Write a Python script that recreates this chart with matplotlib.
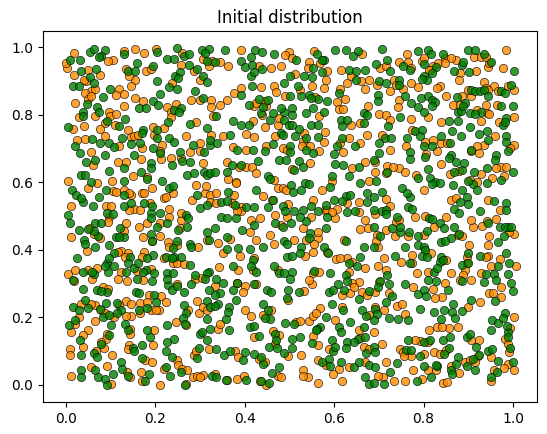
import matplotlib
matplotlib.use("Agg")
import matplotlib.pyplot as plt

title = "Initial distribution"

orange_pts = [
(0.019,0.982),(0.105,0.962),(0.094,0.960),(0.130,0.988),(0.156,0.996),(0.176,0.982),(0.202,0.996),(0.260,0.982),(0.307,0.966),(0.004,0.939),(0.002,0.954),(0.135,0.937),(0.179,0.929),(0.190,0.937),(0.257,0.947),(0.320,0.946),(0.327,0.959),(0.019,0.919),(0.050,0.934),(0.046,0.901),(0.077,0.919),(0.154,0.902),(0.142,0.914),(0.286,0.929),(0.301,0.904),(0.041,0.902),(0.057,0.870),(0.065,0.877),(0.120,0.877),(0.113,0.860),(0.130,0.863),(0.147,0.885),(0.238,0.895),(0.280,0.845),(0.301,0.845),(0.325,0.845),(0.044,0.865),(0.051,0.847),(0.057,0.855),(0.020,0.835),(0.156,0.850),(0.174,0.840),(0.130,0.827),(0.226,0.822),(0.246,0.833),(0.325,0.823),(0.065,0.796),(0.029,0.793),(0.096,0.808),(0.100,0.798),(0.113,0.804),(0.236,0.808),(0.235,0.793),(0.329,0.796),(0.017,0.758),(0.041,0.768),(0.089,0.776),(0.111,0.771),(0.076,0.758),(0.140,0.754),(0.221,0.760),(0.291,0.778),(0.195,0.763),(0.026,0.726),(0.043,0.728),(0.089,0.736),(0.119,0.709),(0.146,0.734),(0.153,0.736),(0.162,0.741),(0.198,0.740),(0.216,0.712),(0.268,0.738),(0.301,0.718),(0.326,0.740),(0.056,0.689),(0.170,0.702),(0.212,0.692),(0.278,0.689),(0.301,0.692),
(0.391,0.993),(0.499,0.986),(0.491,0.976),(0.555,0.988),(0.568,0.954),(0.663,0.979),(0.345,0.956),(0.363,0.946),(0.433,0.944),(0.459,0.939),(0.482,0.946),(0.544,0.956),(0.585,0.931),(0.583,0.902),(0.513,0.922),(0.615,0.934),(0.661,0.899),(0.677,0.902),(0.629,0.895),(0.670,0.878),(0.436,0.883),(0.393,0.880),(0.376,0.865),(0.465,0.887),(0.470,0.867),(0.491,0.855),(0.550,0.885),(0.578,0.880),(0.558,0.852),(0.613,0.877),(0.624,0.847),(0.607,0.837),(0.360,0.845),(0.345,0.830),(0.422,0.825),(0.439,0.801),(0.448,0.825),(0.567,0.796),(0.611,0.817),(0.676,0.825),(0.659,0.776),(0.637,0.771),(0.419,0.781),(0.446,0.764),(0.474,0.771),(0.352,0.736),(0.404,0.743),(0.422,0.734),(0.469,0.736),(0.530,0.724),(0.578,0.721),(0.634,0.731),(0.657,0.718),(0.674,0.741),(0.374,0.705),(0.404,0.695),(0.447,0.709),(0.485,0.702),(0.567,0.692),(0.620,0.689),
(0.507,0.969),(0.541,0.939),(0.524,0.873),(0.445,0.840),(0.426,0.835),(0.478,0.791),(0.621,0.817),(0.533,0.746),(0.580,0.748),(0.613,0.717),(0.494,0.697),(0.528,0.707),(0.546,0.707),(0.637,0.914),
(0.763,0.979),(0.766,0.956),(0.796,0.959),(0.849,0.969),(0.873,0.962),(0.913,0.972),(0.929,0.972),(0.984,0.993),(0.703,0.939),(0.822,0.946),(0.833,0.954),(0.817,0.934),(0.881,0.924),(0.879,0.902),(0.918,0.929),(0.945,0.942),(0.947,0.954),(0.977,0.939),(0.696,0.890),(0.733,0.904),(0.755,0.877),(0.772,0.893),(0.787,0.883),(0.837,0.885),(0.936,0.897),(0.958,0.887),(0.966,0.870),(0.988,0.887),(1.003,0.875),(0.905,0.855),(0.726,0.870),(0.744,0.845),(0.743,0.822),(0.851,0.855),(0.866,0.830),(0.940,0.830),(0.941,0.806),(0.964,0.830),(0.700,0.804),(0.716,0.801),(0.726,0.786),(0.772,0.788),(0.811,0.793),(0.840,0.778),(0.929,0.781),(1.003,0.793),(0.840,0.718),(0.761,0.707),(0.726,0.697),(0.805,0.685),(0.960,0.738),(0.936,0.712),(0.920,0.707),(0.923,0.687),(1.003,0.712),
(0.800,0.969),(0.862,0.969),(0.940,0.972),(0.715,0.946),(0.744,0.956),(0.772,0.939),(0.812,0.934),(0.849,0.954),(0.738,0.890),(0.831,0.880),(0.940,0.880),(0.899,0.873),(0.945,0.875),(0.885,0.857),(0.881,0.830),(0.920,0.815),(0.947,0.804),(0.969,0.778),(0.774,0.756),(0.706,0.741),(0.803,0.721),(0.820,0.726),(0.853,0.718),(0.907,0.692),(0.994,0.702),(0.829,0.692),
(0.118,0.659),(0.135,0.659),(0.168,0.669),(0.214,0.669),(0.307,0.657),(0.006,0.603),(0.050,0.583),(0.071,0.598),(0.103,0.603),(0.150,0.618),(0.292,0.593),(0.013,0.529),(0.105,0.575),(0.147,0.563),(0.170,0.568),(0.220,0.553),(0.283,0.548),(0.312,0.570),(0.091,0.529),(0.102,0.529),(0.153,0.521),(0.167,0.519),(0.231,0.521),(0.231,0.499),(0.257,0.489),(0.098,0.499),(0.135,0.479),(0.163,0.467),(0.316,0.430),(0.013,0.437),(0.048,0.398),(0.076,0.435),(0.054,0.464),(0.124,0.398),(0.172,0.439),(0.193,0.425),(0.211,0.440),(0.248,0.415),(0.295,0.408),(0.176,0.395),(0.241,0.362),(0.006,0.329),(0.071,0.346),
(0.061,0.652),(0.235,0.672),(0.257,0.672),(0.183,0.616),(0.241,0.570),(0.314,0.590),(0.113,0.573),(0.131,0.578),(0.142,0.568),(0.176,0.568),(0.194,0.583),(0.224,0.558),(0.322,0.563),(0.142,0.519),(0.189,0.538),(0.258,0.509),(0.322,0.543),(0.094,0.484),(0.131,0.457),(0.183,0.481),(0.212,0.479),(0.255,0.464),(0.063,0.448),(0.116,0.395),(0.229,0.422),(0.231,0.410),(0.140,0.390),(0.133,0.380),(0.170,0.380),(0.220,0.375),(0.249,0.360),(0.264,0.358),(0.020,0.341),(0.050,0.341),(0.124,0.336),(0.190,0.343),(0.159,0.339),
(0.360,0.659),(0.404,0.647),(0.417,0.645),(0.425,0.628),(0.363,0.610),(0.380,0.600),(0.547,0.657),(0.507,0.639),(0.640,0.642),(0.670,0.659),(0.465,0.606),(0.474,0.583),(0.485,0.583),(0.574,0.578),(0.677,0.603),(0.336,0.568),(0.441,0.560),(0.462,0.548),(0.552,0.548),(0.607,0.521),(0.371,0.538),(0.393,0.527),(0.415,0.489),(0.435,0.494),(0.530,0.464),(0.603,0.494),(0.670,0.489),(0.657,0.461),(0.676,0.464),(0.341,0.420),(0.425,0.430),(0.456,0.445),(0.465,0.418),(0.511,0.430),(0.565,0.435),(0.552,0.395),(0.389,0.382),(0.422,0.375),(0.343,0.348),(0.419,0.341),(0.605,0.372),(0.629,0.377),
(0.388,0.647),(0.595,0.603),(0.493,0.578),(0.376,0.563),(0.380,0.598),(0.498,0.537),(0.580,0.517),(0.629,0.539),(0.655,0.543),(0.336,0.539),(0.393,0.514),(0.382,0.514),(0.413,0.452),(0.467,0.504),(0.482,0.474),(0.494,0.499),(0.548,0.499),(0.585,0.517),(0.595,0.511),(0.655,0.511),(0.563,0.454),(0.368,0.432),(0.555,0.418),(0.537,0.430),(0.585,0.395),(0.622,0.430),(0.352,0.390),(0.474,0.341),(0.535,0.382),(0.385,0.341),(0.552,0.331),(0.567,0.336),(0.613,0.375),(0.640,0.365),(0.670,0.346),(0.633,0.336),
(0.718,0.649),(0.744,0.642),(0.759,0.630),(0.839,0.655),(0.929,0.626),(0.972,0.645),(0.783,0.623),(0.801,0.578),(0.953,0.613),(0.716,0.550),(0.861,0.548),(0.873,0.553),(0.970,0.519),(0.781,0.497),(0.726,0.531),(0.691,0.507),(0.851,0.499),(0.910,0.469),(0.930,0.471),(0.962,0.491),(1.003,0.447),(0.947,0.440),(0.944,0.415),(0.715,0.459),(0.737,0.440),(0.901,0.415),(0.698,0.410),(0.774,0.385),(0.711,0.375),(0.817,0.390),(0.944,0.383),(0.951,0.351),(0.698,0.353),(0.715,0.341),(0.785,0.331),(0.809,0.336),
(0.691,0.659),(0.731,0.647),(0.859,0.626),(0.879,0.635),(0.962,0.642),(0.984,0.645),(0.691,0.630),(0.715,0.628),(0.903,0.608),(0.920,0.600),(0.979,0.618),(0.944,0.548),(0.738,0.484),(0.746,0.489),(0.803,0.501),(0.800,0.444),(0.824,0.467),(0.877,0.444),(0.907,0.489),(0.942,0.487),(0.992,0.452),(0.696,0.444),(0.766,0.442),(0.885,0.440),(0.896,0.378),(0.694,0.425),(0.775,0.361),(0.851,0.370),(0.898,0.361),(0.893,0.341),(0.940,0.380),(0.970,0.372),(0.750,0.365),(0.862,0.331),(0.888,0.326),(0.929,0.331),(1.006,0.351),
(0.019,0.308),(0.083,0.290),(0.137,0.308),(0.294,0.249),(0.187,0.266),(0.214,0.263),(0.224,0.246),(0.190,0.221),(0.065,0.236),(0.135,0.249),(0.167,0.243),(0.146,0.203),(0.298,0.213),(0.011,0.157),(0.050,0.164),(0.065,0.189),(0.085,0.110),(0.198,0.162),(0.246,0.186),(0.270,0.177),(0.196,0.117),(0.009,0.107),(0.009,0.090),(0.103,0.088),(0.248,0.073),(0.286,0.090),(0.320,0.107),(0.177,0.075),(0.194,0.068),(0.221,0.048),(0.285,0.023),(0.307,0.030),(0.013,0.026),(0.056,0.053),(0.102,0.003),(0.093,0.055),(0.168,0.038),(0.170,0.011),(0.210,-0.001),
(0.059,0.315),(0.094,0.285),(0.116,0.315),(0.172,0.310),(0.249,0.298),(0.290,0.315),(0.305,0.318),(0.307,0.231),(0.181,0.246),(0.209,0.221),(0.035,0.241),(0.056,0.241),(0.079,0.221),(0.120,0.236),(0.146,0.241),(0.135,0.203),(0.167,0.213),(0.201,0.221),(0.273,0.221),(0.316,0.221),(0.020,0.182),(0.029,0.201),(0.039,0.147),(0.088,0.213),(0.109,0.201),(0.144,0.167),(0.144,0.152),(0.093,0.152),(0.091,0.137),(0.079,0.127),(0.039,0.112),(0.068,0.102),(0.142,0.117),(0.140,0.107),(0.251,0.058),(0.292,0.100),(0.137,0.038),(0.144,0.023),(0.261,0.048),(0.272,0.043),(0.294,0.028),(0.268,0.002),(0.300,0.025),
(0.400,0.292),(0.397,0.275),(0.550,0.298),(0.655,0.305),(0.635,0.271),(0.663,0.276),(0.341,0.167),(0.459,0.221),(0.400,0.223),(0.415,0.203),(0.515,0.186),(0.544,0.189),(0.553,0.203),(0.568,0.229),(0.617,0.231),(0.677,0.206),(0.422,0.142),(0.463,0.160),(0.563,0.117),(0.666,0.112),(0.378,0.102),(0.526,0.088),(0.565,0.075),(0.581,0.058),(0.618,0.013),(0.383,0.018),(0.447,0.001),(0.474,0.028),(0.530,0.043),(0.541,0.023),(0.565,0.005),
(0.334,0.292),(0.382,0.302),(0.426,0.298),(0.498,0.251),(0.533,0.278),(0.544,0.310),(0.640,0.302),(0.618,0.266),(0.644,0.290),(0.674,0.266),(0.346,0.182),(0.442,0.206),(0.524,0.189),(0.559,0.213),(0.602,0.191),(0.655,0.162),(0.478,0.147),(0.467,0.122),(0.552,0.144),(0.589,0.107),(0.657,0.140),(0.677,0.107),(0.385,0.083),(0.433,0.078),(0.445,0.068),(0.498,0.085),(0.612,0.048),(0.598,0.033),(0.633,0.053),(0.670,0.068),(0.334,0.033),(0.360,0.015),(0.398,0.028),(0.435,0.013),(0.482,0.023),(0.530,0.028),
(0.691,0.276),(0.777,0.290),(0.822,0.285),(0.849,0.302),(0.842,0.261),(0.927,0.246),(0.947,0.271),(0.973,0.290),(0.689,0.157),(0.711,0.221),(0.740,0.233),(0.752,0.241),(0.759,0.209),(0.812,0.164),(0.829,0.172),(0.856,0.170),(0.877,0.172),(1.003,0.201),(0.981,0.137),(0.923,0.134),(0.988,0.061),(0.716,0.068),(0.748,0.107),(0.772,0.085),(0.824,0.097),(0.811,0.043),(0.879,0.035),(0.709,0.025),(0.735,0.011),(0.759,0.011),(0.777,0.045),(0.797,0.018),(0.844,0.005),(0.979,0.051),
(0.700,0.305),(0.722,0.271),(0.825,0.259),(0.881,0.312),(0.907,0.312),(0.955,0.273),(0.973,0.261),(0.692,0.231),(0.899,0.231),(0.842,0.172),(0.994,0.170),(0.792,0.130),(0.780,0.132),(0.811,0.127),(0.851,0.104),(0.905,0.132),(0.921,0.085),(0.951,0.083),(0.988,0.122),(0.992,0.097),(0.706,0.122),(0.753,0.097),(0.757,0.085),(0.800,0.093),(0.837,0.093),(0.827,0.045),(0.862,0.055),(0.893,0.068),(0.914,0.068),(0.903,0.073),(0.698,0.028),(0.853,0.008),(0.957,0.043),(0.950,0.013),(1.003,0.045),
]

green_pts = [
(0.054,0.987),(0.063,0.996),(0.089,0.993),(0.079,0.974),(0.074,0.972),(0.130,0.979),(0.205,0.986),(0.249,0.997),(0.227,0.966),(0.242,0.966),(0.264,0.974),(0.276,0.979),(0.305,0.993),(0.320,0.995),(0.312,0.982),(0.010,0.962),(0.032,0.964),(0.159,0.954),(0.139,0.929),(0.156,0.931),(0.196,0.946),(0.276,0.949),(0.294,0.937),(0.316,0.959),(0.035,0.929),(0.068,0.937),(0.054,0.911),(0.204,0.900),(0.244,0.916),(0.255,0.926),(0.252,0.908),(0.307,0.916),(0.317,0.898),(0.017,0.887),(0.030,0.885),(0.064,0.895),(0.099,0.877),(0.232,0.883),(0.249,0.878),(0.210,0.862),(0.290,0.870),(0.306,0.850),(0.083,0.853),(0.048,0.832),(0.195,0.840),(0.207,0.830),(0.242,0.815),(0.257,0.820),(0.071,0.822),(0.074,0.809),(0.039,0.810),(0.040,0.796),(0.163,0.820),(0.180,0.819),(0.254,0.808),(0.006,0.764),(0.093,0.781),(0.132,0.788),(0.119,0.766),(0.174,0.754),(0.229,0.780),(0.279,0.774),(0.316,0.760),(0.204,0.754),(0.059,0.729),(0.076,0.718),(0.096,0.718),(0.109,0.705),(0.127,0.731),(0.167,0.718),(0.147,0.714),(0.170,0.746),(0.204,0.731),(0.231,0.731),(0.242,0.721),(0.285,0.712),(0.322,0.712),(0.323,0.726),(0.022,0.707),(0.033,0.687),(0.087,0.682),(0.152,0.680),(0.195,0.702),(0.211,0.687),(0.255,0.689),(0.310,0.689),
(0.356,0.993),(0.424,0.991),(0.439,0.986),(0.465,0.981),(0.516,0.962),(0.561,0.979),(0.578,0.962),(0.603,0.993),(0.626,0.993),(0.654,0.988),(0.643,0.974),(0.334,0.956),(0.391,0.959),(0.402,0.942),(0.414,0.972),(0.417,0.949),(0.439,0.936),(0.414,0.916),(0.422,0.926),(0.533,0.914),(0.550,0.912),(0.502,0.914),(0.633,0.934),(0.648,0.929),(0.668,0.934),(0.649,0.904),(0.417,0.887),(0.393,0.860),(0.487,0.895),(0.520,0.885),(0.527,0.857),(0.502,0.857),(0.544,0.860),(0.565,0.847),(0.585,0.840),(0.611,0.865),(0.410,0.830),(0.433,0.847),(0.436,0.806),(0.457,0.784),(0.463,0.806),(0.506,0.820),(0.507,0.801),(0.489,0.810),(0.487,0.784),(0.537,0.806),(0.553,0.820),(0.578,0.810),(0.615,0.786),(0.629,0.786),(0.666,0.806),(0.674,0.799),(0.618,0.766),(0.336,0.796),(0.373,0.781),(0.391,0.771),(0.410,0.771),(0.500,0.771),(0.521,0.758),(0.548,0.771),(0.565,0.771),(0.367,0.741),(0.482,0.746),(0.513,0.736),(0.538,0.731),(0.563,0.734),(0.617,0.731),(0.607,0.709),(0.646,0.707),(0.339,0.718),(0.382,0.697),(0.419,0.697),(0.463,0.715),(0.501,0.707),(0.502,0.689),(0.552,0.687),(0.600,0.685),
(0.552,0.939),(0.573,0.926),(0.548,0.850),(0.452,0.845),(0.441,0.822),(0.482,0.820),(0.666,0.776),(0.507,0.771),(0.485,0.741),(0.537,0.697),(0.445,0.692),(0.572,0.962),
(0.706,0.995),(0.788,0.990),(0.811,0.991),(0.817,0.979),(0.802,0.952),(0.844,0.979),(0.886,0.949),(0.899,0.991),(0.914,0.991),(0.936,0.979),(0.694,0.952),(0.718,0.964),(0.726,0.931),(0.755,0.946),(0.770,0.934),(0.828,0.942),(0.868,0.929),(0.901,0.926),(1.001,0.929),(0.701,0.899),(0.715,0.895),(0.746,0.904),(0.744,0.890),(0.802,0.914),(0.807,0.904),(0.818,0.924),(0.907,0.875),(0.914,0.870),(0.927,0.870),(0.936,0.875),(0.944,0.855),(0.973,0.870),(0.995,0.890),(0.981,0.865),(0.698,0.860),(0.698,0.840),(0.759,0.855),(0.772,0.835),(0.794,0.850),(0.811,0.855),(0.818,0.845),(0.825,0.838),(0.788,0.823),(0.800,0.808),(0.818,0.825),(0.874,0.852),(0.893,0.835),(0.876,0.810),(0.903,0.806),(0.929,0.808),(0.973,0.825),(1.000,0.825),(0.720,0.768),(0.748,0.794),(0.856,0.781),(0.876,0.781),(0.903,0.764),(0.984,0.791),(0.977,0.771),(0.781,0.751),(0.796,0.756),(0.792,0.738),(0.840,0.738),(0.864,0.751),(0.883,0.736),(0.713,0.731),(0.701,0.718),(0.728,0.731),(0.763,0.733),(0.800,0.709),(0.818,0.707),(0.860,0.717),(0.770,0.689),(0.861,0.680),(0.924,0.743),(0.942,0.751),(0.945,0.726),(0.905,0.695),(0.984,0.736),(0.984,0.721),(0.988,0.692),
(0.888,0.956),(0.950,0.956),(0.796,0.906),(0.883,0.813),(0.914,0.804),(0.981,0.779),(0.700,0.687),(0.962,0.682),(0.888,0.825),
(0.046,0.659),(0.065,0.665),(0.130,0.642),(0.190,0.657),(0.238,0.652),(0.261,0.662),(0.278,0.659),(0.309,0.632),(0.096,0.635),(0.014,0.578),(0.035,0.623),(0.057,0.600),(0.130,0.603),(0.168,0.632),(0.183,0.610),(0.216,0.603),(0.231,0.583),(0.241,0.588),(0.272,0.623),(0.316,0.623),(0.024,0.563),(0.039,0.543),(0.006,0.504),(0.009,0.479),(0.091,0.578),(0.074,0.558),(0.061,0.529),(0.093,0.509),(0.131,0.531),(0.147,0.538),(0.176,0.538),(0.190,0.509),(0.212,0.509),(0.268,0.504),(0.301,0.524),(0.317,0.534),(0.031,0.459),(0.065,0.479),(0.205,0.469),(0.251,0.459),(0.272,0.469),(0.316,0.454),(0.041,0.430),(0.043,0.418),(0.065,0.410),(0.098,0.415),(0.113,0.439),(0.131,0.439),(0.190,0.447),(0.278,0.418),(0.026,0.375),(0.145,0.378),(0.139,0.362),(0.092,0.360),(0.109,0.351),(0.196,0.385),(0.224,0.378),(0.257,0.380),(0.039,0.336),(0.063,0.329),(0.094,0.336),(0.135,0.336),(0.153,0.346),(0.179,0.341),(0.198,0.331),(0.226,0.331),(0.241,0.331),(0.290,0.326),(0.320,0.336),
(0.190,0.642),(0.044,0.623),(0.286,0.628),(0.323,0.628),(0.035,0.553),(0.130,0.563),(0.294,0.563),(0.105,0.506),(0.194,0.531),(0.273,0.494),(0.079,0.479),(0.122,0.464),(0.190,0.494),(0.227,0.479),(0.072,0.440),(0.063,0.455),(0.050,0.462),(0.120,0.439),(0.109,0.390),(0.194,0.425),(0.249,0.425),(0.241,0.405),(0.280,0.410),(0.320,0.430),(0.098,0.375),(0.181,0.375),(0.242,0.380),(0.238,0.375),(0.279,0.356),(0.059,0.336),(0.087,0.351),(0.162,0.360),(0.174,0.336),(0.316,0.331),
(0.391,0.652),(0.430,0.662),(0.334,0.632),(0.360,0.630),(0.478,0.665),(0.493,0.665),(0.522,0.662),(0.601,0.655),(0.620,0.652),(0.655,0.647),(0.452,0.618),(0.504,0.593),(0.509,0.573),(0.535,0.598),(0.544,0.596),(0.591,0.586),(0.596,0.618),(0.633,0.618),(0.659,0.598),(0.426,0.578),(0.363,0.573),(0.452,0.527),(0.485,0.531),(0.511,0.514),(0.530,0.519),(0.581,0.534),(0.600,0.548),(0.626,0.560),(0.635,0.563),(0.674,0.568),(0.674,0.543),(0.348,0.543),(0.404,0.527),(0.422,0.527),(0.348,0.499),(0.380,0.494),(0.395,0.459),(0.420,0.474),(0.467,0.479),(0.485,0.467),(0.504,0.481),(0.537,0.487),(0.563,0.514),(0.629,0.511),(0.646,0.514),(0.581,0.464),(0.546,0.450),(0.334,0.464),(0.360,0.438),(0.385,0.405),(0.411,0.402),(0.441,0.410),(0.489,0.425),(0.526,0.408),(0.578,0.410),(0.666,0.410),(0.465,0.353),(0.476,0.331),(0.494,0.380),(0.374,0.351),(0.489,0.331),(0.555,0.339),(0.592,0.333),(0.659,0.380),(0.652,0.353),
(0.371,0.652),(0.511,0.637),(0.530,0.647),(0.457,0.610),(0.526,0.578),(0.463,0.548),(0.491,0.514),(0.548,0.531),(0.617,0.544),(0.360,0.546),(0.378,0.534),(0.360,0.494),(0.524,0.499),(0.585,0.499),(0.494,0.418),(0.544,0.435),(0.587,0.392),(0.626,0.425),(0.360,0.402),(0.419,0.370),(0.507,0.382),(0.524,0.390),(0.415,0.353),(0.426,0.336),(0.506,0.336),(0.633,0.360),(0.626,0.326),
(0.873,0.659),(0.885,0.637),(0.809,0.639),(0.814,0.613),(0.913,0.630),(0.942,0.642),(1.000,0.630),(0.960,0.665),(0.694,0.603),(0.825,0.600),(0.866,0.593),(0.886,0.578),(0.910,0.596),(0.920,0.578),(0.972,0.606),(0.752,0.583),(0.770,0.558),(0.707,0.573),(0.896,0.558),(0.899,0.537),(0.957,0.546),(0.984,0.538),(0.927,0.514),(0.765,0.527),(0.706,0.514),(0.740,0.499),(0.729,0.464),(0.812,0.494),(0.868,0.521),(0.837,0.479),(0.807,0.457),(0.868,0.467),(0.945,0.479),(0.970,0.467),(0.988,0.467),(0.979,0.442),(0.966,0.422),(0.703,0.442),(0.748,0.452),(0.788,0.440),(0.788,0.415),(0.839,0.422),(0.862,0.435),(0.879,0.447),(0.899,0.390),(0.759,0.408),(0.737,0.382),(0.840,0.380),(0.837,0.365),(0.887,0.356),(0.899,0.362),(0.927,0.383),(0.966,0.351),(0.984,0.390),(0.990,0.360),(0.824,0.336),(0.940,0.329),
(0.689,0.665),(0.718,0.632),(0.770,0.669),(0.803,0.674),(0.856,0.672),(0.890,0.657),(0.868,0.630),(0.787,0.613),(0.837,0.598),(0.818,0.596),(0.899,0.603),(0.942,0.598),(0.763,0.568),(0.689,0.558),(0.881,0.543),(0.984,0.517),(0.775,0.521),(0.716,0.519),(0.715,0.507),(0.689,0.519),(0.748,0.469),(0.818,0.491),(0.879,0.509),(0.846,0.464),(0.981,0.469),(0.995,0.467),(0.689,0.469),(0.768,0.454),(0.800,0.410),(0.803,0.400),(0.849,0.425),(0.689,0.410),(0.796,0.382),(0.807,0.380),(0.770,0.362),(0.844,0.370),(0.718,0.326),(0.829,0.346),(0.958,0.329),(0.988,0.329),
(0.039,0.285),(0.071,0.280),(0.093,0.275),(0.159,0.315),(0.194,0.308),(0.229,0.295),(0.238,0.280),(0.264,0.275),(0.281,0.298),(0.320,0.280),(0.317,0.249),(0.157,0.275),(0.017,0.231),(0.031,0.221),(0.044,0.251),(0.076,0.226),(0.091,0.243),(0.115,0.243),(0.124,0.221),(0.164,0.221),(0.264,0.236),(0.268,0.213),(0.263,0.199),(0.316,0.196),(0.007,0.177),(0.022,0.193),(0.033,0.134),(0.083,0.201),(0.098,0.206),(0.102,0.177),(0.133,0.181),(0.140,0.162),(0.096,0.147),(0.079,0.122),(0.183,0.162),(0.189,0.142),(0.227,0.177),(0.242,0.137),(0.227,0.127),(0.035,0.088),(0.063,0.094),(0.071,0.084),(0.150,0.110),(0.170,0.117),(0.224,0.100),(0.238,0.083),(0.294,0.081),(0.300,0.150),(0.298,0.110),(0.316,0.132),(0.124,0.068),(0.125,0.048),(0.140,0.028),(0.170,0.081),(0.233,0.028),(0.257,0.038),(0.327,0.028),(0.034,0.045),(0.035,0.025),(0.066,0.045),(0.072,0.025),(0.088,0.018),(0.093,0.001),(0.105,0.033),(0.187,0.033),(0.177,0.011),(0.266,0.001),
(0.017,0.310),(0.079,0.278),(0.227,0.315),(0.248,0.292),(0.312,0.315),(0.323,0.231),(0.164,0.273),(0.198,0.266),(0.201,0.246),(0.181,0.229),(0.050,0.229),(0.115,0.213),(0.266,0.180),(0.152,0.102),(0.305,0.157),(0.322,0.167),(0.224,0.053),
(0.352,0.302),(0.383,0.302),(0.422,0.298),(0.345,0.271),(0.373,0.280),(0.380,0.253),(0.450,0.282),(0.459,0.276),(0.496,0.280),(0.494,0.259),(0.521,0.276),(0.609,0.298),(0.629,0.308),(0.589,0.276),(0.677,0.278),(0.655,0.256),(0.365,0.231),(0.358,0.196),(0.365,0.162),(0.442,0.239),(0.457,0.196),(0.411,0.172),(0.491,0.183),(0.568,0.172),(0.581,0.200),(0.596,0.239),(0.635,0.186),(0.611,0.172),(0.663,0.221),(0.666,0.172),(0.433,0.144),(0.507,0.137),(0.550,0.124),(0.598,0.102),(0.629,0.127),(0.654,0.137),(0.670,0.142),(0.337,0.107),(0.354,0.090),(0.368,0.100),(0.397,0.073),(0.422,0.093),(0.442,0.061),(0.454,0.112),(0.473,0.110),(0.506,0.110),(0.589,0.078),(0.615,0.068),(0.644,0.053),(0.677,0.058),(0.670,0.025),(0.336,0.023),(0.358,0.015),(0.404,0.015),(0.437,0.011),(0.462,0.035),(0.478,0.053),
(0.337,0.315),(0.334,0.266),(0.501,0.315),(0.598,0.280),(0.622,0.280),(0.341,0.239),(0.363,0.216),(0.334,0.233),(0.452,0.221),(0.445,0.199),(0.420,0.174),(0.511,0.180),(0.561,0.167),(0.620,0.221),(0.615,0.157),(0.671,0.203),(0.467,0.150),(0.470,0.132),(0.524,0.142),(0.559,0.162),(0.595,0.132),(0.602,0.112),(0.627,0.110),(0.644,0.127),(0.671,0.095),(0.402,0.097),(0.437,0.083),(0.489,0.095),(0.572,0.068),(0.592,0.055),(0.655,0.068),(0.677,0.003),(0.454,0.005),
(0.703,0.308),(0.729,0.263),(0.716,0.246),(0.723,0.298),(0.759,0.298),(0.787,0.269),(0.800,0.280),(0.805,0.263),(0.827,0.308),(0.855,0.280),(0.866,0.239),(0.885,0.308),(0.936,0.305),(0.905,0.251),(0.960,0.249),(0.995,0.302),(0.999,0.278),(0.692,0.226),(0.722,0.199),(0.743,0.196),(0.792,0.226),(0.824,0.216),(0.846,0.221),(0.839,0.196),(0.864,0.216),(0.886,0.219),(0.953,0.191),(0.967,0.184),(0.981,0.213),(0.988,0.157),(0.765,0.134),(0.800,0.127),(0.844,0.132),(0.859,0.142),(0.856,0.110),(0.896,0.142),(0.903,0.152),(0.918,0.112),(0.923,0.088),(0.944,0.100),(0.953,0.107),(0.967,0.071),(0.994,0.110),(0.999,0.068),(0.689,0.112),(0.691,0.053),(0.740,0.065),(0.760,0.105),(0.792,0.085),(0.846,0.093),(0.802,0.055),(0.817,0.025),(0.831,0.055),(0.861,0.045),(0.898,0.055),(0.916,0.045),(0.726,0.038),(0.711,0.003),(0.689,0.005),(0.785,0.011),(0.951,0.025),(0.964,0.038),
(0.698,0.290),(0.809,0.312),(0.962,0.310),(0.696,0.211),(0.689,0.191),(0.766,0.191),(0.871,0.199),(0.977,0.199),(0.987,0.174),(0.950,0.164),(0.988,0.142),(0.814,0.132),(0.910,0.078),(0.692,0.097),(0.772,0.104),(0.827,0.058),(0.876,0.083),(0.873,0.061),(0.864,0.033),
]

orange_x = [p[0] for p in orange_pts]
orange_y = [p[1] for p in orange_pts]
green_x = [p[0] for p in green_pts]
green_y = [p[1] for p in green_pts]

fig = plt.figure(figsize=(5.47, 4.34), dpi=100)
ax = fig.add_axes([43/547, 32/434, 494/547, 371/434])
ax.scatter(orange_x, orange_y, color="darkorange", edgecolors="k",
           linewidths=0.5, alpha=0.8, s=36)
ax.scatter(green_x, green_y, color="green", edgecolors="k",
           linewidths=0.5, alpha=0.8, s=36)
ax.set_title(title)
ax.set_xlim(-0.0505, 1.0535)
ax.set_ylim(-0.0505, 1.0485)
fig.savefig("out.png", dpi=100)
